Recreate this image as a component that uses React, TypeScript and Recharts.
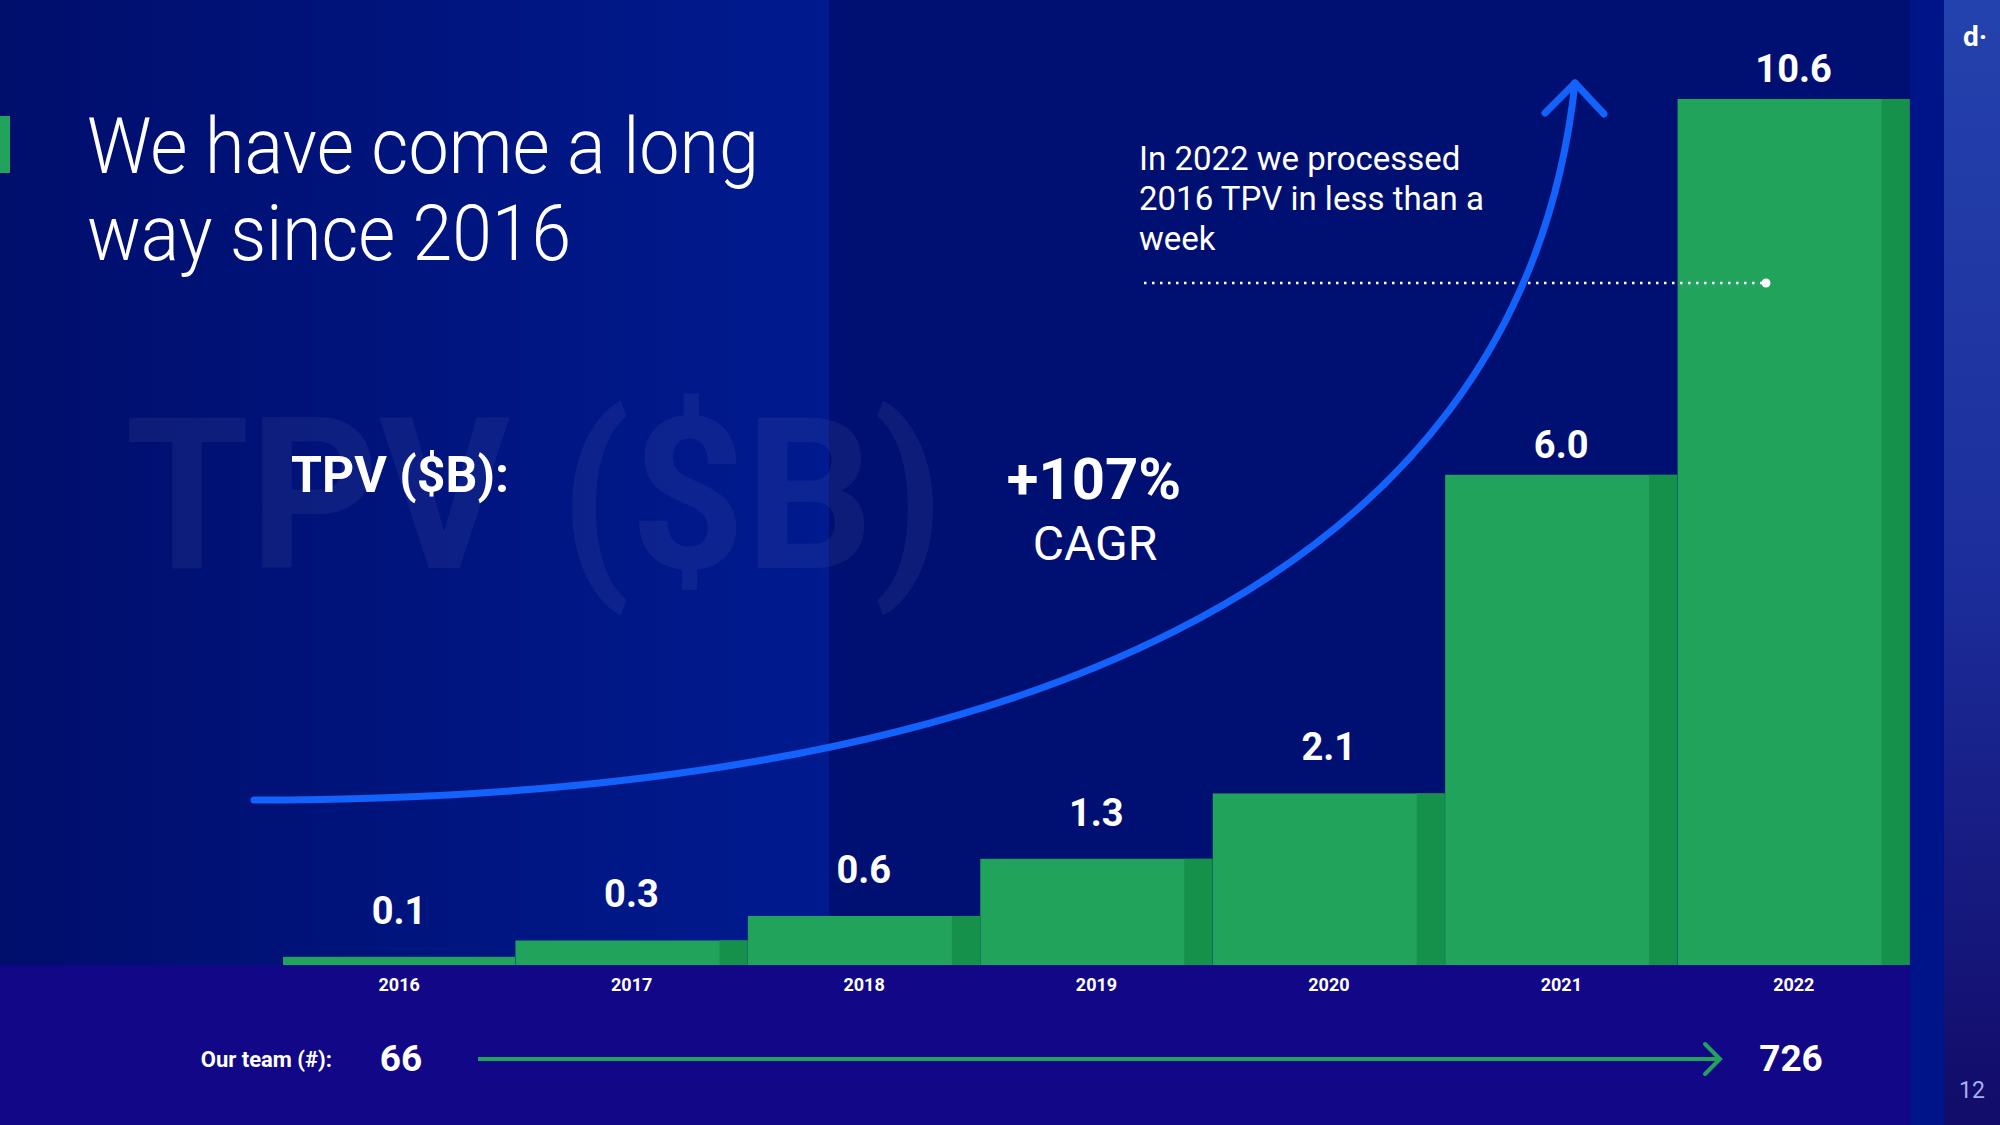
import { BarChart, Bar, XAxis, YAxis, LabelList } from 'recharts';

// TPV in $B per year
const years = ['2016', '2017', '2018', '2019', '2020', '2021', '2022'];
const tpv = [0.1, 0.3, 0.6, 1.3, 2.1, 6.0, 10.6];

// team headcount, first and last year
const teamFirst = 66;
const teamLast = 726;

const data = years.map((year, i) => ({ year, tpv: tpv[i] }));

const FONT = 'Roboto, "Noto Sans", sans-serif';
const FONT_LIGHT = '"Roboto Light", Roboto, "Noto Sans", sans-serif';
const GREEN = '#22a35c';
const GREEN_DARK = '#16914c';
const CURVE = '#1262fb';

const BarShape = (props: any) => {
  const { x, y, width, height, index } = props;
  const shade = 28;
  return (
    <g>
      <rect x={x} y={y} width={width} height={height} fill={GREEN} />
      {index > 0 && (
        <rect x={x + width - shade} y={y} width={shade} height={height} fill={GREEN_DARK} />
      )}
    </g>
  );
};

const ValueLabel = (props: any) => {
  const { x, y, width, value, index } = props;
  // the two tall bars carry their labels a little closer
  const lift = index >= 5 ? 17 : 33;
  return (
    <text
      x={x + width / 2}
      y={y - lift}
      textAnchor="middle"
      fill="#fff"
      fontFamily={FONT}
      fontWeight={700}
      fontSize={38}
    >
      {Number(value).toFixed(1)}
    </text>
  );
};

const YearTick = (props: any) => {
  const { x, y, payload } = props;
  return (
    <text x={x} y={y + 26} textAnchor="middle" fill="#fff" fontFamily={FONT} fontWeight={700} fontSize={18}>
      {payload.value}
    </text>
  );
};

const Background = () => (
  <svg width={2000} height={1125} style={{ position: 'absolute', left: 0, top: 0 }}>
    <defs>
      <linearGradient id="leftPanel" x1="0" y1="0" x2="1" y2="0">
        <stop offset="0%" stopColor="#000e6c" />
        <stop offset="100%" stopColor="#001a8f" />
      </linearGradient>
      <linearGradient id="sideStrip" x1="0" y1="0" x2="0" y2="1">
        <stop offset="0%" stopColor="#2442ad" />
        <stop offset="50%" stopColor="#1c2e9c" />
        <stop offset="100%" stopColor="#120b69" />
      </linearGradient>
    </defs>
    <rect x={0} y={0} width={2000} height={1125} fill="#000f72" />
    <rect x={0} y={0} width={829} height={965} fill="url(#leftPanel)" />
    <rect x={0} y={965} width={1910} height={160} fill="#120887" />
    <rect x={1910} y={0} width={34} height={1125} fill="#00148a" />
    <rect x={1944} y={0} width={56} height={1125} fill="url(#sideStrip)" />
    <text
      x={125}
      y={568}
      fill="#ffffff"
      fillOpacity={0.05}
      fontFamily={FONT}
      fontWeight={700}
      fontSize={212}
      textLength={819}
      lengthAdjust="spacingAndGlyphs"
    >
      TPV ($B)
    </text>
  </svg>
);

const Overlay = () => (
  <svg width={2000} height={1125} style={{ position: 'absolute', left: 0, top: 0, pointerEvents: 'none' }}>
    <rect x={0} y={116} width={10} height={57} fill={GREEN} />
    <g fill="#fff" fontFamily={FONT_LIGHT} fontWeight={300} fontSize={77}>
      <text x={87} y={173} textLength={672} lengthAdjust="spacingAndGlyphs">
        We have come a long
      </text>
      <text x={87} y={260} textLength={484} lengthAdjust="spacingAndGlyphs">
        way since 2016
      </text>
    </g>

    <text x={291} y={492} fill="#fff" fontFamily={FONT} fontWeight={700} fontSize={50}>
      TPV ($B):
    </text>

    <text x={1094} y={499} textAnchor="middle" fill="#fff" fontFamily={FONT} fontWeight={700} fontSize={58}>
      +107%
    </text>
    <text x={1095} y={560} textAnchor="middle" fill="#fff" fontFamily={FONT} fontWeight={400} fontSize={48}>
      CAGR
    </text>

    <g fill="#fff" fontFamily={FONT} fontSize={33}>
      <text x={1139} y={170}>In 2022 we processed</text>
      <text x={1139} y={210}>2016 TPV in less than a</text>
      <text x={1139} y={250}>week</text>
    </g>
    <line x1={1144} y1={283} x2={1762} y2={283} stroke="#fff" strokeWidth={2.5} strokeDasharray="2.5 5.5" />
    <circle cx={1766} cy={283} r={4.5} fill="#fff" />

    <path
      d="M254,800 C1000,800 1520,590 1575,83"
      fill="none"
      stroke={CURVE}
      strokeWidth={7}
      strokeLinecap="round"
    />
    <path
      d="M1545,113 L1575,83 L1604,114"
      fill="none"
      stroke={CURVE}
      strokeWidth={7}
      strokeLinecap="round"
      strokeLinejoin="round"
    />

    <text x={332} y={1067} textAnchor="end" fill="#fff" fontFamily={FONT} fontWeight={700} fontSize={22}>
      Our team (#):
    </text>
    <text x={401} y={1071} textAnchor="middle" fill="#fff" fontFamily={FONT} fontWeight={700} fontSize={37}>
      {teamFirst}
    </text>
    <line x1={478} y1={1059} x2={1719} y2={1059} stroke={GREEN} strokeWidth={4} />
    <path d="M1705,1044 L1720,1059 L1705,1074" fill="none" stroke={GREEN} strokeWidth={4} strokeLinecap="round" />
    <text x={1791} y={1071} textAnchor="middle" fill="#fff" fontFamily={FONT} fontWeight={700} fontSize={37}>
      {teamLast}
    </text>

    <text x={1975} y={46} textAnchor="middle" fill="#fff" fontFamily={FONT} fontWeight={700} fontSize={28}>
      d·
    </text>
    <text x={1972} y={1098} textAnchor="middle" fill="#a3b0f2" fontFamily={FONT} fontSize={23}>
      12
    </text>
  </svg>
);

export default function App() {
  return (
    <div style={{ position: 'absolute', left: 0, top: 0, width: 2000, height: 1125, overflow: 'hidden' }}>
      <Background />
      <div style={{ position: 'absolute', left: 0, top: 0 }}>
        <BarChart
          width={2000}
          height={1125}
          data={data}
          margin={{ top: 99, right: 90, bottom: 130, left: 283 }}
          barCategoryGap={0}
          barGap={0}
        >
          <XAxis
            dataKey="year"
            height={30}
            axisLine={false}
            tickLine={false}
            tickSize={0}
            tickMargin={0}
            interval={0}
            tick={<YearTick />}
          />
          <YAxis hide domain={[0, 'dataMax']} />
          <Bar dataKey="tpv" shape={<BarShape />} isAnimationActive={false}>
            <LabelList dataKey="tpv" content={<ValueLabel />} />
          </Bar>
        </BarChart>
      </div>
      <Overlay />
    </div>
  );
}
